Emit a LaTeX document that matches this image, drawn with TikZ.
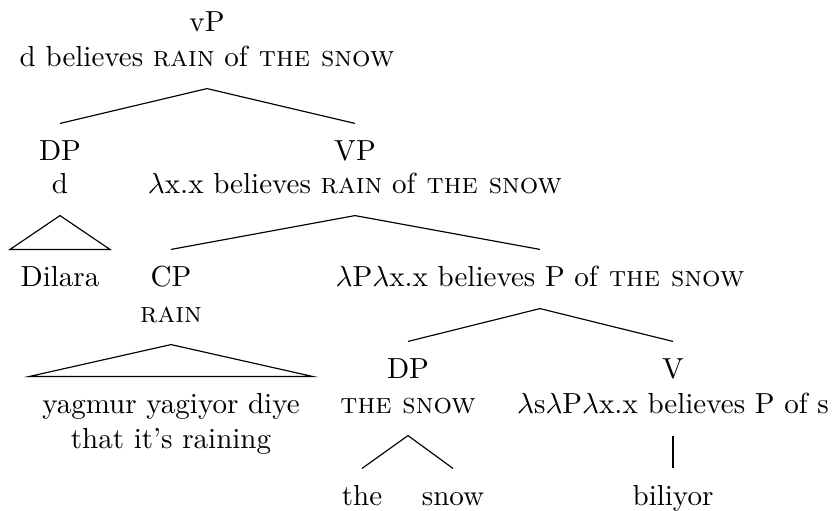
\documentclass[tikz,border=0pt]{standalone}
\usetikzlibrary{calc}
\begin{document}
\begin{tikzpicture}[x=0.3445pt,y=-0.3445pt,
  lab/.style={anchor=base, inner sep=0pt, text height=12.4pt, text depth=7.58pt},
  branch/.style={line width=0.4pt}]
\useasboundingbox (0,0) rectangle (834,510);
% root
\node[lab] (vp)    at (207,31)  {vP};
\node[lab] (vpsem) at (207,66)  {d believes \textsc{rain} of \textsc{the snow}};
% subject
\node[lab] (dp)    at (60,160)  {DP};
\node[lab] (dpsem) at (60,193)  {d};
\node[lab] (dil)   at (60,286)  {Dilara};
% VP
\node[lab] (vpp)    at (355,160) {VP};
\node[lab] (vppsem) at (355,193) {$\lambda$x.x believes \textsc{rain} of \textsc{the snow}};
% CP
\node[lab] (cp)    at (171,286) {CP};
\node[lab] (cpsem) at (171,322) {\textsc{rain}};
\node[lab] (yag)   at (171,413) {yagmur yagiyor diye};
\node[lab] (rain)  at (171,448) {that it's raining};
% V-bar
\node[lab] (vbar) at (540,286) {$\lambda$P$\lambda$x.x believes P of \textsc{the snow}};
% object DP
\node[lab] (obj)    at (408,378) {DP};
\node[lab] (objsem) at (408,413) {\textsc{the snow}};
\node[lab] (the)    at (362,505) {the};
\node[lab] (snow)   at (453,505) {snow};
% verb
\node[lab] (v)    at (673,378) {V};
\node[lab] (vsem) at (673,413) {$\lambda$s$\lambda$P$\lambda$x.x believes P of s};
\node[lab] (bil)  at (673,505) {biliyor};
% branches
\draw[branch] (dp.north) -- (vpsem.south) -- (vpp.north);
\draw[branch] (cp.north) -- (vppsem.south) -- (vbar.north);
\draw[branch] (obj.north) -- (vbar.south) -- (v.north);
\draw[branch] (the.north) -- (objsem.south) -- (snow.north);
\draw[branch] (vsem.south) -- (bil.north);
% roofs
\draw[branch] (dpsem.south) -- ($(dil.north)+(-50,0)$) -- ($(dil.north)+(50,0)$) -- cycle;
\draw[branch] (cpsem.south) -- ($(yag.north)+(-141.5,0)$) -- ($(yag.north)+(141.5,0)$) -- cycle;
\end{tikzpicture}
\end{document}
